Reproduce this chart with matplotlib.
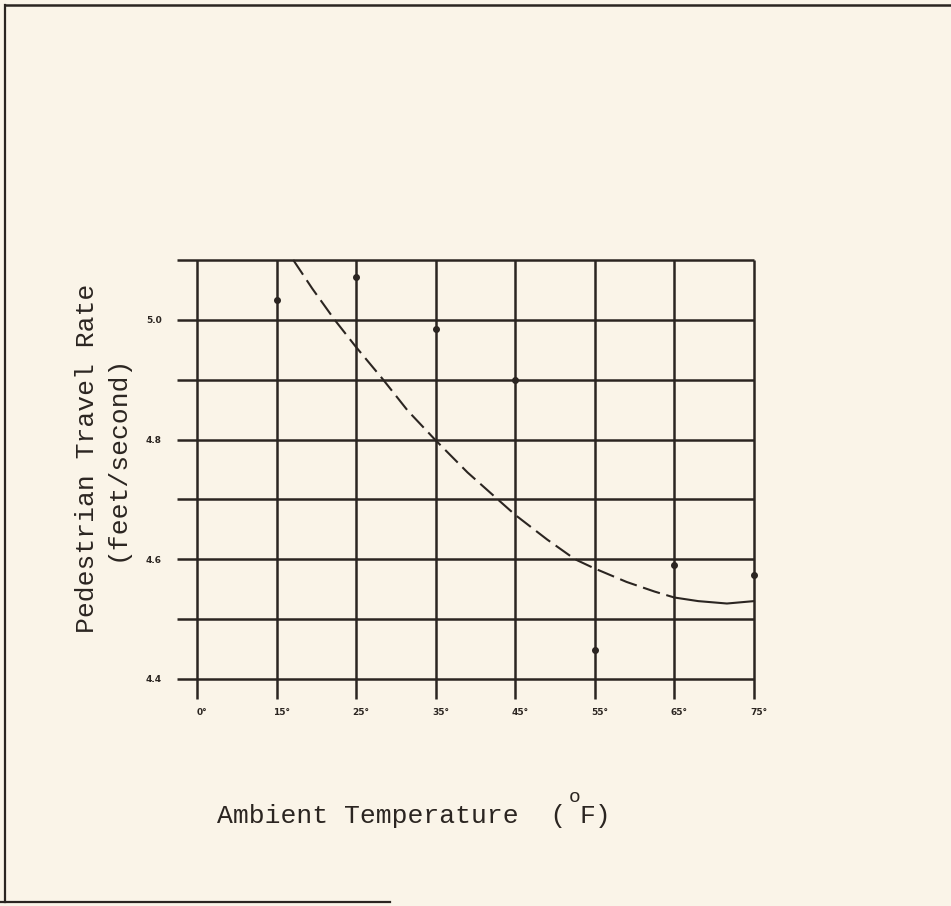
import matplotlib
matplotlib.use("Agg")
import matplotlib.pyplot as plt
from matplotlib.lines import Line2D
from matplotlib.transforms import ScaledTranslation

# Temperature classes (evenly spaced columns on the chart)
temp_labels = ["0°", "15°", "25°", "35°", "45°", "55°", "65°", "75°"]
temp_pos = list(range(len(temp_labels)))

# Rate axis gridlines and labelled values
rate_grid = [4.4, 4.5, 4.6, 4.7, 4.8, 4.9, 5.0, 5.1]
rate_ticks = [4.4, 4.6, 4.8, 5.0]
rate_tick_labels = ["4.4", "4.6", "4.8", "5.0"]

# Observed mean travel rates (ft/s) per temperature class
obs_pos = [1, 2, 3, 4, 5, 6, 7]
obs_rate = [5.033, 5.072, 4.985, 4.900, 4.448, 4.591, 4.574]

# Fitted trend curve (dashed part, then solid tail)
curve_pos = [1.21, 1.45, 1.73, 1.99, 2.34, 2.65, 2.99, 3.40, 3.78, 4.00,
             4.40, 4.75, 4.99, 5.40, 5.75, 6.00, 6.30, 6.66, 7.00]
curve_val = [5.100, 5.052, 5.000, 4.956, 4.900, 4.848, 4.800, 4.745, 4.700, 4.674,
             4.633, 4.600, 4.585, 4.562, 4.546, 4.536, 4.530, 4.526, 4.530]
solid_from = 15  # index in curve arrays where the line becomes solid

ink = "#2b2521"
paper = "#faf4e8"

fig = plt.figure(figsize=(9.51, 9.06), dpi=100, facecolor=paper)
ax = fig.add_axes([0.1820, 0.2242, 0.6150, 0.4955])
ax.set_facecolor(paper)
ax.set_xlim(-0.3, 7.05)
ax.set_ylim(4.36, 5.11)
for s in ax.spines.values():
    s.set_visible(False)

# Grid: horizontal rules overhang to the left, vertical rules overhang below
ax.hlines(rate_grid, -0.25, temp_pos[-1], color=ink, lw=1.8, zorder=2)
ax.vlines(temp_pos, rate_grid[0] - 0.033, rate_grid[-1], color=ink, lw=1.8, zorder=2)

# Trend curve
ax.plot(curve_pos[:solid_from + 1], curve_val[:solid_from + 1], color=ink, lw=1.5,
        dashes=(8.5, 3.2), zorder=3)
ax.plot(curve_pos[solid_from:], curve_val[solid_from:], color=ink, lw=1.5, zorder=3)

# Observations
ax.plot(obs_pos, obs_rate, "o", color=ink, ms=4, zorder=4)

# Ticks
ax.set_yticks(rate_ticks)
ax.set_yticklabels(rate_tick_labels, fontsize=6.5, fontweight="bold", color=ink)
ax.set_xticks(temp_pos)
ax.set_xticklabels(temp_labels, fontsize=6.5, fontweight="bold", color=ink)
ax.tick_params(axis="both", length=0)
ax.tick_params(axis="y", pad=8)
ax.tick_params(axis="x", pad=4)
for lab in ax.get_xticklabels():
    lab.set_transform(lab.get_transform() + ScaledTranslation(5 / 100, 0, fig.dpi_scale_trans))

# Axis titles in typewriter face
mono = "Liberation Mono"
W, H = 951, 906
fig.text(217 / W, 1 - 816 / H, "Ambient Temperature  (",
         fontsize=19, family=mono, color=ink, ha="left", va="center")
fig.text(579 / W, 1 - 816 / H, "F)",
         fontsize=19, family=mono, color=ink, ha="left", va="center")
fig.text(575 / W, 1 - 798 / H, "o",
         fontsize=14, family=mono, color=ink, ha="center", va="center")
fig.text(87 / W, 1 - 458 / H, "Pedestrian Travel Rate",
         fontsize=19, family=mono, color=ink, rotation=90, ha="center", va="center")
fig.text(117 / W, 1 - 458 / H, "(feet/second)",
         fontsize=19, family=mono, color=ink, rotation=90, ha="center", va="center")

# Page frame
fig.add_artist(Line2D([5 / W, 5 / W], [1 - 5 / H, 1 - 902 / H],
                      transform=fig.transFigure, color=ink, lw=1.6))
fig.add_artist(Line2D([5 / W, 1.0], [1 - 5 / H, 1 - 5 / H],
                      transform=fig.transFigure, color=ink, lw=1.8))
fig.add_artist(Line2D([0.0, 390 / W], [1 - 902 / H, 1 - 902 / H],
                      transform=fig.transFigure, color=ink, lw=1.6))

fig.savefig("out.png", dpi=100, facecolor=paper)
